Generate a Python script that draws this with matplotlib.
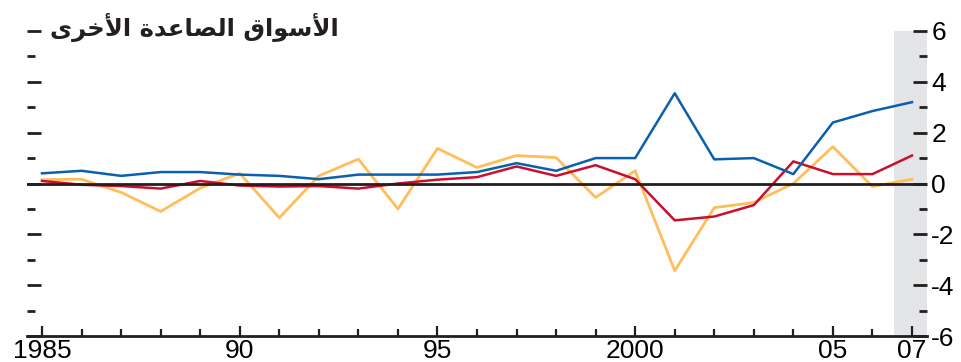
import numpy as np
import matplotlib
matplotlib.use('Agg')
import matplotlib.pyplot as plt
from matplotlib.ticker import MultipleLocator, FixedLocator

plt.rcParams['font.family'] = ['Liberation Sans', 'DejaVu Sans']
plt.rcParams['axes.unicode_minus'] = False

years = np.arange(1985, 2008)
blue = [0.4, 0.5, 0.3, 0.45, 0.45, 0.35, 0.3, 0.17, 0.35, 0.35, 0.35, 0.45,
        0.8, 0.5, 1.0, 1.0, 3.55, 0.95, 1.0, 0.37, 2.4, 2.85, 3.2]
red = [0.1, -0.05, -0.1, -0.2, 0.1, -0.08, -0.12, -0.1, -0.2, 0.0, 0.15, 0.25,
       0.67, 0.3, 0.72, 0.17, -1.45, -1.3, -0.85, 0.87, 0.37, 0.37, 1.1]
orange = [0.15, 0.17, -0.35, -1.1, -0.18, 0.4, -1.35, 0.3, 0.96, -1.0, 1.38, 0.63,
          1.1, 1.02, -0.55, 0.5, -3.43, -0.95, -0.75, 0.0, 1.45, -0.12, 0.17]
xtick_pos = [1985, 1990, 1995, 2000, 2005, 2007]
xtick_labels = ['1985', '90', '95', '2000', '05', '07']
# title already in visual (left-to-right) order, presentation forms
title = '\ufeef\ufeae\ufea7\ufef7\ufe8d \ufe93\ufeaa\ufecb\ufe8e\ufebc\ufedf\ufe8d \ufed5\ufe8d\ufeee\ufeb3\ufef7\ufe8d'

W, H = 962, 362
fig = plt.figure(figsize=(W / 100, H / 100), dpi=100)
ax = fig.add_axes([27 / W, (H - 336) / H, 900 / W, 305 / H])

# forecast shading
ax.axvspan(2006.55, 2007.4, color='#e4e5e6', lw=0, zorder=0)

ax.plot(years, orange, color='#ffbd5c', lw=2.0, zorder=2)
ax.plot(years, red, color='#c8102e', lw=1.8, zorder=3)
ax.plot(years, blue, color='#0a5fae', lw=1.8, zorder=4)
ax.axhline(0, color='#231f20', lw=2, zorder=5)

ax.set_xlim(1984.62, 2007.38)
ax.set_ylim(-6, 6)

for s in ['top', 'left', 'right']:
    ax.spines[s].set_visible(False)
ax.spines['bottom'].set_linewidth(2)
ax.spines['bottom'].set_color('#231f20')

ax.xaxis.set_major_locator(FixedLocator(xtick_pos))
ax.set_xticklabels(xtick_labels)
ax.xaxis.set_minor_locator(MultipleLocator(1))
ax.tick_params(axis='x', which='major', direction='in', length=7, width=1.6,
               color='#231f20', labelsize=19, pad=2)
ax.tick_params(axis='x', which='minor', direction='in', length=5, width=1.6,
               color='#231f20')

ax.yaxis.set_major_locator(MultipleLocator(2))
ax.yaxis.set_minor_locator(MultipleLocator(1))
ax.tick_params(axis='y', which='both', left=True, right=True, labelleft=False,
               labelright=True, direction='in', color='#231f20', width=2)
ax.tick_params(axis='y', which='major', length=10, labelsize=19, pad=3)
ax.tick_params(axis='y', which='minor', length=6)

fig.text(50 / W, (H - 27) / H, title, family=['DejaVu Sans'], fontweight='bold',
         fontsize=17.5, color='#231f20', ha='left', va='center')

fig.savefig('out.png', dpi=100)
